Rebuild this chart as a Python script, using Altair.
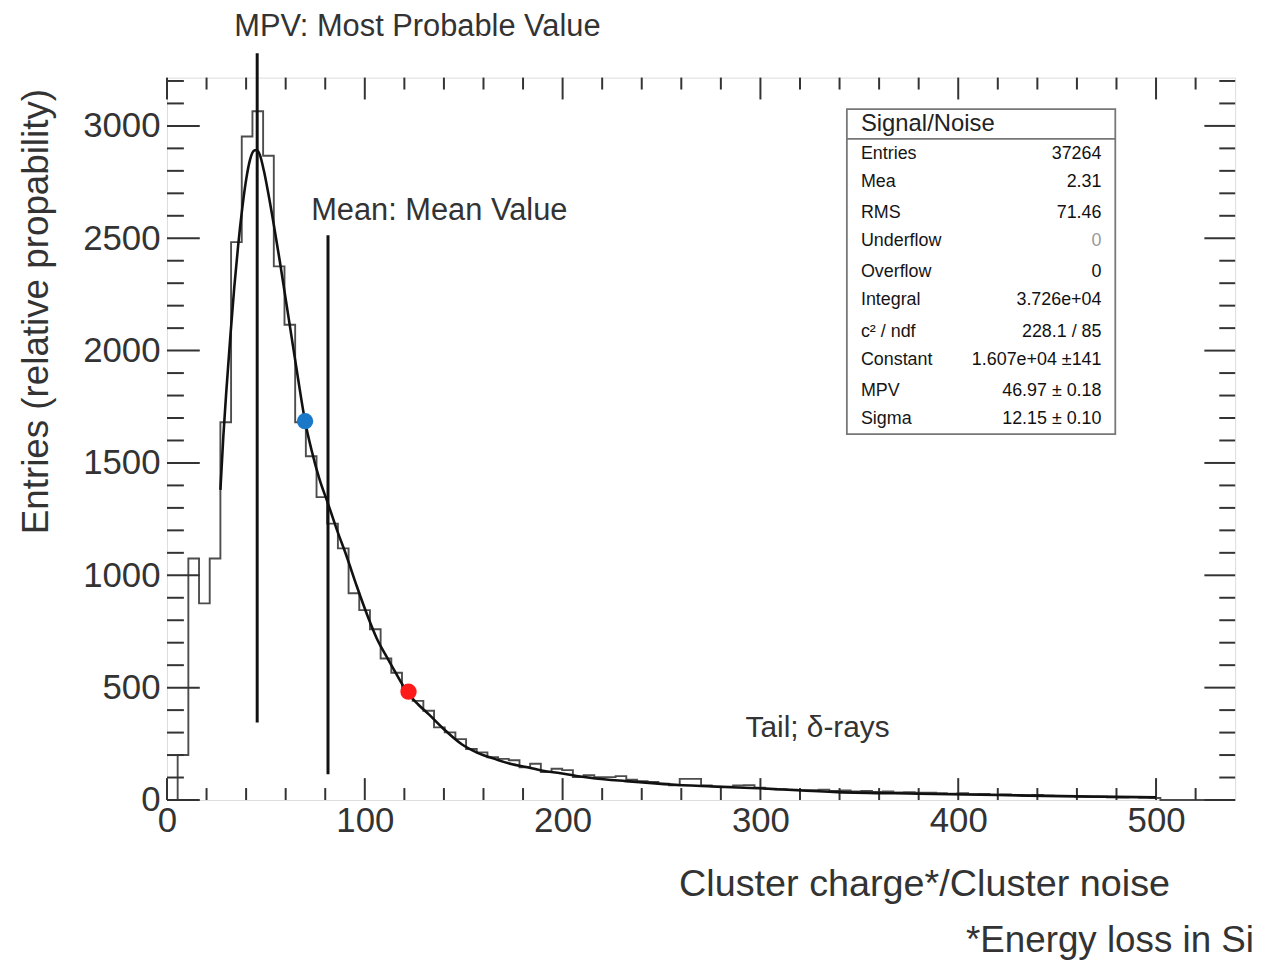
import altair as alt
import pandas as pd

# ---------------- data ----------------
BIN_WIDTH = 5.4
X_MAX = 540
Y_MAX = 3215

counts = [0, 200, 1075, 875, 1075, 1681, 2483, 2953, 3065, 2867,
          2375, 2115, 1681, 1530, 1348, 1230, 1120, 920, 845, 760,
          630, 566, 490, 441, 397, 323, 301, 271, 227, 212,
          190, 183, 177, 146, 161, 124, 139, 133, 102, 110,
          102, 102, 106, 90, 84, 80, 72, 65, 94, 94,
          65, 60, 59, 65, 66, 55, 50, 48, 46, 44,
          44, 46, 40, 42, 38, 40, 36, 38, 34, 35,
          32, 33, 30, 28, 30, 26, 27, 24, 25, 22,
          20, 22, 19, 17, 18, 15, 14, 15, 12, 11,
          12, 10, 9, 0, 0, 0, 0, 0, 0, 0]

fit_x = [27.0, 28.5, 30, 32, 34, 36, 38, 40, 42, 44, 45.5, 47, 49, 51, 54, 57, 60,
         63, 66, 69.8, 73, 77, 81.4, 86, 90.8, 96, 101.8, 106, 110.8, 116, 121.3,
         127, 132.4, 140, 149, 157, 165.7, 174, 182.3, 190, 199, 207, 215.6, 232,
         257, 282, 299, 339, 380, 420, 460, 500]
fit_y = [1380, 1620, 1820, 2060, 2280, 2470, 2630, 2760, 2850, 2890, 2893, 2870,
         2800, 2710, 2560, 2400, 2230, 2060, 1890, 1686, 1560, 1430, 1319, 1200,
         1085, 950, 810, 720, 641, 560, 482, 425, 381, 315, 248, 210, 183, 160,
         146, 130, 119, 107, 97, 84, 68, 58, 52, 35, 28, 22, 16, 12]

marker_names = ["MPV", "Mean"]
marker_x = [45.6, 81.4]
marker_y_low = [345, 115]
marker_y_high = [3323, 2513]

dot_x = [69.8, 122.1]
dot_y = [1686, 482]
dot_color = ["#1a78c8", "#ff1a1a"]

x_major = [0, 100, 200, 300, 400, 500]
x_minor = [20, 40, 60, 80, 120, 140, 160, 180, 220, 240, 260, 280, 320, 340,
           360, 380, 420, 440, 460, 480, 520]
y_major = [0, 500, 1000, 1500, 2000, 2500, 3000]
y_minor = [100, 200, 300, 400, 600, 700, 800, 900, 1100, 1200, 1300, 1400,
           1600, 1700, 1800, 1900, 2100, 2200, 2300, 2400, 2600, 2700, 2800,
           2900, 3100, 3200]

stat_labels = ["Entries", "Mea", "RMS", "Underflow", "Overflow", "Integral",
               "c² / ndf", "Constant", "MPV", "Sigma"]
stat_values = ["37264", "2.31", "71.46", "0", "0", "3.726e+04", "228.1 / 85",
               "1.607e+04 ±141", "46.97 ± 0.18", "12.15 ± 0.10"]
stat_value_color = ["#111", "#111", "#111", "#999", "#111", "#111", "#111",
                    "#111", "#111", "#111"]
stat_row_y = [2876, 2748, 2611, 2487, 2350, 2226, 2084, 1956, 1819, 1695]

# ---------------- tables ----------------
hist_df = pd.DataFrame({
    "x": [k * BIN_WIDTH for k in range(len(counts))] + [len(counts) * BIN_WIDTH],
    "y": counts + [counts[-1]],
})
fit_df = pd.DataFrame({"x": fit_x, "y": fit_y})
mark_df = pd.DataFrame({"name": marker_names, "x": marker_x, "y": marker_y_low, "y2": marker_y_high})
dot_df = pd.DataFrame({"x": dot_x, "y": dot_y, "c": dot_color})

FONT = "Liberation Sans"
TXT = "#333333"
W, H = 1075, 727

xs = alt.Scale(domain=[0, X_MAX], nice=False, zero=False)
ys = alt.Scale(domain=[0, Y_MAX], nice=False, zero=False)

x_axis = alt.Axis(values=x_major, format="d", tickSize=0, domain=False, grid=False,
                  labelFlush=False,
                  labelFontSize=35, labelFont=FONT, labelColor=TXT, labelPadding=4,
                  title="Cluster charge*/Cluster noise", titleFont=FONT,
                  titleFontSize=38, titleFontWeight="normal", titleColor=TXT,
                  titleX=1009, titleY=85, titleAlign="right", titleBaseline="middle")
y_axis = alt.Axis(values=y_major, format="d", tickSize=0, domain=False, grid=False,
                  labelFlush=False,
                  labelFontSize=35, labelFont=FONT, labelColor=TXT, labelPadding=7,
                  title="Entries (relative propability)", titleFont=FONT,
                  titleFontSize=37, titleFontWeight="normal", titleColor=TXT,
                  titleX=-131, titleY=235, titleAlign="center", titleBaseline="middle",
                  titleAngle=270)


def X(field):
    return alt.X(f"{field}:Q", scale=xs, axis=x_axis)


def Y(field):
    return alt.Y(f"{field}:Q", scale=ys, axis=y_axis)


hist = alt.Chart(hist_df).mark_line(interpolate="step-after", color="#4d4d4d",
                                    strokeWidth=1.9).encode(x=X("x"), y=Y("y"))

fit = alt.Chart(fit_df).mark_line(color="#111111", strokeWidth=2.6,
                                  interpolate="monotone").encode(x=X("x"), y=Y("y"))

vlines = alt.Chart(mark_df).mark_rule(color="#111111", strokeWidth=3).encode(
    x=X("x"), y=Y("y"), y2="y2:Q")

dots = alt.Chart(dot_df).mark_circle(size=270, opacity=1).encode(
    x=X("x"), y=Y("y"), color=alt.Color("c:N", scale=None, legend=None))

ann_df = pd.DataFrame({
    "t": ["MPV: Most Probable Value", "Mean: Mean Value", "Tail; δ-rays"],
    "x": [126.6, 72.9, 292.5],
    "y": [3440, 2619, 318],
    "a": ["center", "left", "left"],
    "s": [31, 31, 30],
})
annot = []
for i in range(len(ann_df)):
    annot.append(
        alt.Chart(ann_df.iloc[[i]]).mark_text(
            font=FONT, fontSize=int(ann_df["s"][i]), color=TXT,
            align=ann_df["a"][i], baseline="middle").encode(
            x=X("x"), y=Y("y"), text="t:N")
    )

foot_df = pd.DataFrame({"t": ["*Energy loss in Si"], "x": [549.5], "y": [-627]})
foot = alt.Chart(foot_df).mark_text(font=FONT, fontSize=37, color=TXT,
                                    align="right", baseline="middle").encode(
    x=X("x"), y=Y("y"), text="t:N")

# stats box
box_df = pd.DataFrame({"x": [343.7], "x2": [479.4], "y": [1628], "y2": [3075]})
box = alt.Chart(box_df).mark_rect(fill="white", stroke="#777777", strokeWidth=1.8).encode(
    x=X("x"), x2="x2:Q", y=Y("y"), y2="y2:Q")
sep_df = pd.DataFrame({"x": [343.7], "x2": [479.4], "y": [2942]})
sep = alt.Chart(sep_df).mark_rule(color="#777777", strokeWidth=1.8).encode(
    x=X("x"), x2="x2:Q", y=Y("y"))
title_df = pd.DataFrame({"t": ["Signal/Noise"], "x": [350.8], "y": [3009]})
box_title = alt.Chart(title_df).mark_text(font=FONT, fontSize=24, color="#222222",
                                          align="left", baseline="middle").encode(
    x=X("x"), y=Y("y"), text="t:N")
stat_df = pd.DataFrame({"l": stat_labels, "v": stat_values, "c": stat_value_color,
                        "y": stat_row_y, "x": [350.8] * len(stat_labels),
                        "xr": [472.4] * len(stat_labels)})
stat_l = alt.Chart(stat_df).mark_text(font=FONT, fontSize=18, color="#151515",
                                      align="left", baseline="middle").encode(
    x=X("x"), y=Y("y"), text="l:N")
stat_v = alt.Chart(stat_df).mark_text(font=FONT, fontSize=18,
                                      align="right", baseline="middle").encode(
    x=X("xr"), y=Y("y"), text="v:N",
    color=alt.Color("c:N", scale=None, legend=None))

# inward ticks on all four sides
TICK = "#333333"


def xticks(vals, length, top):
    df = pd.DataFrame({"x": vals})
    y0 = 0 if top else H
    y1 = length if top else H - length
    return alt.Chart(df).mark_rule(color=TICK, strokeWidth=2).encode(
        x=X("x"), y=alt.value(y0), y2=alt.value(y1))


def yticks(vals, length, right):
    df = pd.DataFrame({"y": vals})
    x0 = W if right else 0
    x1 = W - length if right else length
    return alt.Chart(df).mark_rule(color=TICK, strokeWidth=2).encode(
        y=Y("y"), x=alt.value(x0), x2=alt.value(x1))


ticks = [xticks(x_major, 22, False), xticks(x_minor, 12, False),
         xticks(x_major, 22, True), xticks(x_minor, 12, True),
         yticks(y_major, 33, False), yticks(y_minor, 17, False),
         yticks(y_major, 31, True), yticks(y_minor, 16, True)]

chart = alt.layer(
    hist, *ticks, fit, vlines, dots, *annot, foot, box, sep, box_title, stat_l, stat_v
).properties(
    width=W, height=H,
    padding={"left": 160, "top": 67, "right": 27, "bottom": 160},
    autosize=alt.AutoSizeParams(type="none"),
).configure_view(stroke="#333333", strokeWidth=2).configure(background="white")

chart.save("out.html", embed_options={"renderer": "svg", "actions": False})
